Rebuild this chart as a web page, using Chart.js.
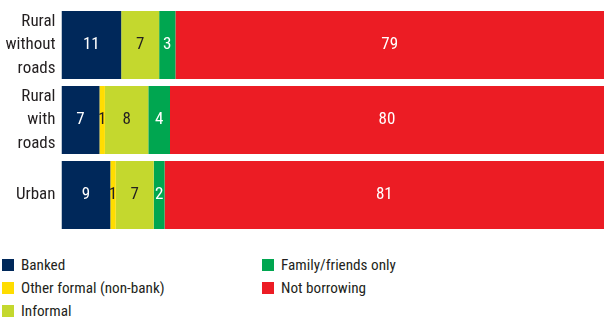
<!DOCTYPE html>
<html>
<head>
<meta charset="utf-8">
<script src="https://cdn.jsdelivr.net/npm/chart.js@4"></script>
<style>
	body { margin: 0; background: #fff; font-family: "Roboto Condensed", "Liberation Sans", sans-serif; }
	#wrap { position: relative; width: 609px; height: 320px; }
	#grafico { position: absolute; left: 0; top: 0; }
	.leg { position: absolute; font-size: 15.2px; color: #231f20; line-height: 20px; white-space: nowrap; }
	.leg span { position: absolute; left: 0; top: 4px; width: 12px; height: 12px; }
	.leg b { font-weight: normal; position: absolute; left: 19px; top: 0; }
</style>
</head>
<body>
<div id="wrap">
	<canvas id="grafico" width="609" height="240"></canvas>
</div>
<script>
// categorias e series
var categorias = [['Rural', 'without', 'roads'], ['Rural', 'with', 'roads'], 'Urban'];
var series = ['Banked', 'Other formal (non-bank)', 'Informal', 'Family/friends only', 'Not borrowing'];
var banked = [11, 7, 9];
var outroFormal = [0, 1, 1];
var informal = [7, 8, 7];
var familia = [3, 4, 2];
var semCredito = [79, 80, 81];

var cores = ['#00285a', '#ffdd00', '#c4d82e', '#00a650', '#ec1c24'];
var corTexto = ['#ffffff', '#231f20', '#231f20', '#ffffff', '#ffffff'];
var valores = [banked, outroFormal, informal, familia, semCredito];
var fonte = '"Roboto Condensed", "Liberation Sans", sans-serif';

var datasets = [];
for (var i = 0; i < series.length; i++) {
	datasets.push({
		label: series[i],
		data: valores[i],
		backgroundColor: cores[i],
		borderWidth: 0,
		barPercentage: 0.907,
		categoryPercentage: 1
	});
}

// escreve os valores no meio de cada barra
var rotulos = {
	id: 'rotulos',
	afterDatasetsDraw: function(chart) {
		var ctx = chart.ctx;
		ctx.save();
		ctx.font = '17px ' + fonte;
		ctx.textAlign = 'center';
		ctx.textBaseline = 'middle';
		chart.data.datasets.forEach(function(ds, d) {
			var meta = chart.getDatasetMeta(d);
			meta.data.forEach(function(bar, j) {
				if (!ds.data[j]) return;
				ctx.fillStyle = corTexto[d];
				ctx.fillText(ds.data[j], (bar.x + bar.base) / 2, bar.y);
			});
		});
		ctx.restore();
	}
};

let grafico = new Chart(document.getElementById('grafico'), {
	type: 'bar',
	data: { labels: categorias, datasets: datasets },
	plugins: [rotulos],
	options: {
		indexAxis: 'y',
		responsive: false,
		animation: false,
		layout: { padding: { top: 7.5, bottom: 7.5, right: 5, left: 0 } },
		plugins: { legend: { display: false }, tooltip: { enabled: false } },
		scales: {
			x: { stacked: true, min: 0, max: 100, display: false },
			y: {
				stacked: true,
				grid: { display: false, drawTicks: false },
				border: { display: false },
				afterFit: function(scale) {
					scale.width = 61.5;
					scale.paddingTop = 0;
					scale.paddingBottom = 0;
				},
				ticks: {
					padding: 6,
					color: '#231f20',
					font: { family: fonte, size: 17, lineHeight: 1.38 }
				}
			}
		}
	}
});

// legenda em duas colunas
var posLegenda = [[2, 255], [2, 278], [2, 301], [262, 255], [262, 278]];
var wrap = document.getElementById('wrap');
for (var i = 0; i < series.length; i++) {
	var el = document.createElement('div');
	el.className = 'leg';
	el.style.left = posLegenda[i][0] + 'px';
	el.style.top = posLegenda[i][1] + 'px';
	el.innerHTML = '<span style="background:' + cores[i] + '"></span><b>' + series[i] + '</b>';
	wrap.appendChild(el);
}
</script>
</body>
</html>
